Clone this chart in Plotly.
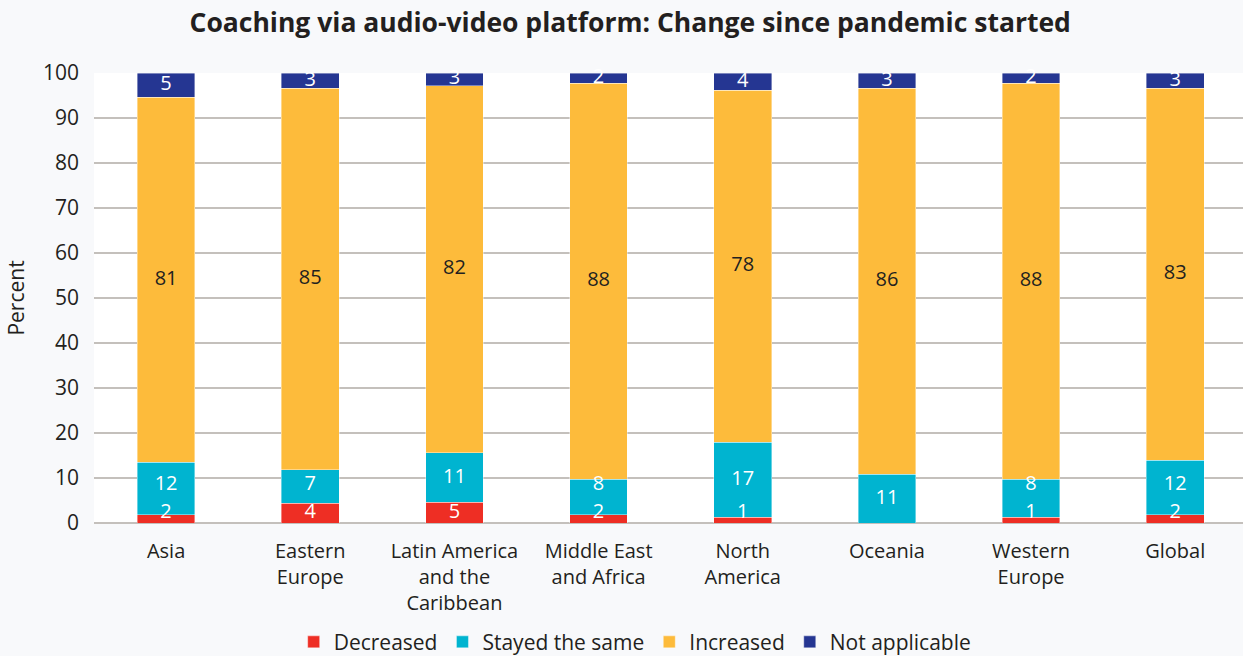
import numpy as np
import plotly.graph_objects as go

categories = ["Asia", "Eastern<br>Europe", "Latin America<br>and the<br>Caribbean",
              "Middle East<br>and Africa", "North<br>America", "Oceania",
              "Western<br>Europe", "Global"]
decreased = [1.8, 4.4, 4.6, 1.8, 1.3, 0.0, 1.3, 1.8]
stayed_same = [11.7, 7.4, 11.0, 7.9, 16.6, 10.8, 8.4, 12.2]
increased = [81.1, 84.8, 81.6, 88.0, 78.3, 85.8, 88.0, 82.6]
not_applicable = [5.4, 3.4, 2.8, 2.3, 3.8, 3.4, 2.3, 3.4]

FONT = "Open Sans"
TXT = "#231F20"

# (name, values, bar colour, label colour)
series = [
    ("Decreased", decreased, "#EE2E24", "white"),
    ("Stayed the same", stayed_same, "#00B4D0", "white"),
    ("Increased", increased, "#FDBB3B", TXT),
    ("Not applicable", not_applicable, "#253692", "white"),
]

def label(v):
    return str(int(v + 0.5)) if v > 0 else ""

fig = go.Figure()
for name, vals, color, _ in series:
    fig.add_trace(go.Bar(
        name=name, x=categories, y=vals,
        marker=dict(color=color, line=dict(color="rgba(255,255,255,0.5)", width=0.8)),
        hoverinfo="x+y+name",
    ))

# value labels drawn on top of all bars (so overflowing labels are not hidden)
base = np.zeros(len(categories))
has_dec = np.array(decreased) > 0
for i, (name, vals, color, tcolor) in enumerate(series):
    v = np.array(vals)
    if i == 0:
        ypos = base.copy()
        tpos = "top center"
    else:
        ypos = base + v / 2
        tpos = "middle center"
        if i == 1:
            # keep clear of the small "Decreased" label below (as in the original)
            ypos = np.where(has_dec, np.maximum(ypos, 8.4), ypos)
    fig.add_trace(go.Scatter(
        x=categories, y=ypos, mode="text", text=[label(a) for a in vals],
        textposition=tpos, textfont=dict(color=tcolor, size=20, family=FONT),
        showlegend=False, hoverinfo="skip", cliponaxis=False,
    ))
    base = base + v

fig.update_layout(
    barmode="stack", bargap=0.6,
    width=1243, height=656,
    paper_bgcolor="#F8F9FB", plot_bgcolor="white",
    margin=dict(l=94, r=0, t=73, b=133),
    font=dict(family=FONT, color=TXT),
    title=dict(text="<b>Coaching via audio-video platform: Change since pandemic started</b>",
               x=0.507, xanchor="center", y=0.966, yanchor="middle",
               font=dict(size=26.5, family=FONT, color=TXT)),
    legend=dict(orientation="h", xref="container", x=0.511, xanchor="center",
                yref="container", y=0.021, yanchor="middle",
                traceorder="normal",
                font=dict(size=21, family=FONT, color=TXT),
                itemwidth=30, tracegroupgap=0, bgcolor="rgba(0,0,0,0)"),
)
fig.update_yaxes(range=[0, 100], dtick=10, showgrid=True, gridcolor="#C4C0BC", gridwidth=1.5,
                 zeroline=True, zerolinecolor="#C4C0BC", zerolinewidth=1.5,
                 tickfont=dict(size=21, family=FONT, color=TXT),
                 ticklabelstandoff=14,
                 title=dict(text="Percent", font=dict(size=21, family=FONT, color=TXT),
                            standoff=12))
fig.update_xaxes(range=[-0.5, 7.47], tickfont=dict(size=20, family=FONT, color=TXT),
                 showgrid=False, ticks="", ticklabelstandoff=14)

fig.write_html("out.html", config={"displayModeBar": False},
               post_script="document.body.style.margin='0';document.body.style.padding='0';")
